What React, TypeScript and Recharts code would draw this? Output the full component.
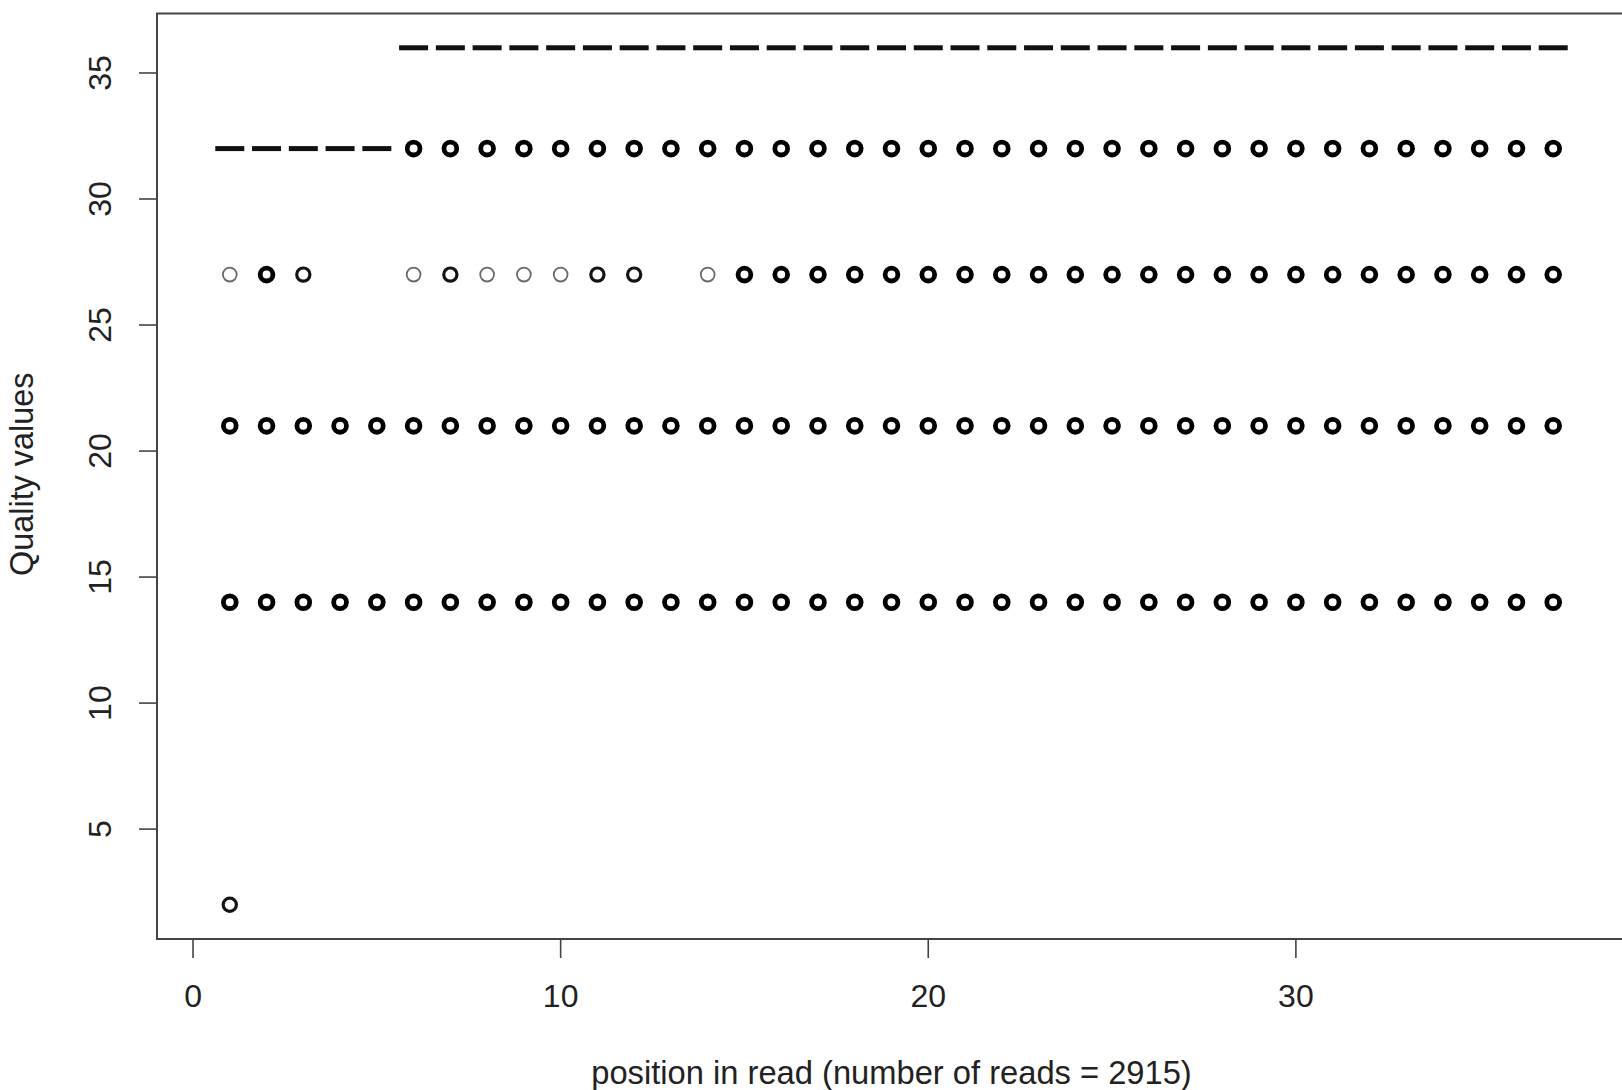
import React from 'react';
import { ScatterChart, Scatter, XAxis, YAxis, ReferenceArea, Label } from 'recharts';

// ---- data ----
const xTicks = [0, 10, 20, 30];
const yTicks = [5, 10, 15, 20, 25, 30, 35];

const allPositions = [1, 2, 3, 4, 5, 6, 7, 8, 9, 10, 11, 12, 13, 14, 15, 16, 17, 18, 19, 20, 21, 22, 23, 24, 25, 26, 27, 28, 29, 30, 31, 32, 33, 34, 35, 36, 37];
const laterPositions = [6, 7, 8, 9, 10, 11, 12, 13, 14, 15, 16, 17, 18, 19, 20, 21, 22, 23, 24, 25, 26, 27, 28, 29, 30, 31, 32, 33, 34, 35, 36, 37];
const earlyPositions = [1, 2, 3, 4, 5];

// quality 36: max marks ("-") at positions 6..37
const dash36Positions = laterPositions;
// quality 32: max marks ("-") at positions 1..5, circles at 6..37
const dash32Positions = earlyPositions;
const q32Positions = laterPositions;
// quality 27: circles of different density
const q27ThinPositions = [1, 6, 8, 9, 10, 14];
const q27MediumPositions = [3, 7, 11, 12];
const q27ThickPositions = [2, 15, 16, 17, 18, 19, 20, 21, 22, 23, 24, 25, 26, 27, 28, 29, 30, 31, 32, 33, 34, 35, 36, 37];
// quality 21 and 14: all positions
const q21Positions = allPositions;
const q14Positions = allPositions;
// quality 2: position 1 only
const q2Positions = [1];

const X_DOMAIN: [number, number] = [-0.98, 38.98];
const Y_DOMAIN: [number, number] = [0.64, 37.36];

const toPoints = (xs: number[], q: number) => xs.map((x) => ({ x, y: q }));

const FONT = '"Liberation Sans", Arial, Helvetica, sans-serif';
const TEXT = '#222';

const ring = (r: number, sw: number, color: string) => (props: any) => (
  <circle cx={props.cx} cy={props.cy} r={r} fill="none" stroke={color} strokeWidth={sw} />
);
const thickRing = ring(6.4, 4.8, '#000');
const mediumRing = ring(6.6, 3.2, '#141414');
const thinRing = ring(6.9, 1.8, '#6a6a6a');
const dash = (props: any) => (
  <rect x={props.cx - 14.5} y={props.cy - 2.5} width={29} height={5} fill="#111" />
);

const XTick = (props: any) => {
  const { x, y, payload } = props;
  return (
    <text x={x} y={y + 47} textAnchor="middle" fontSize={32} fontFamily={FONT} fill={TEXT}>
      {payload.value}
    </text>
  );
};

const YTick = (props: any) => {
  const { x, y, payload } = props;
  const bx = x - 25.5;
  return (
    <text
      x={bx}
      y={y}
      transform={`rotate(-90 ${bx} ${y})`}
      textAnchor="middle"
      fontSize={32}
      fontFamily={FONT}
      fill={TEXT}
    >
      {payload.value}
    </text>
  );
};

const XTitle = (props: any) => {
  const vb = props.viewBox || { x: 157, y: 939, width: 1469, height: 151 };
  return (
    <text
      x={vb.x + vb.width / 2}
      y={vb.y + 145}
      textAnchor="middle"
      fontSize={32.7}
      fontFamily={FONT}
      fill={TEXT}
    >
      position in read (number of reads = 2915)
    </text>
  );
};

const YTitle = (props: any) => {
  const vb = props.viewBox || { x: 0, y: 13.5, width: 157, height: 925.5 };
  const cx = 32.5;
  const cy = vb.y + vb.height / 2 - 2;
  return (
    <text
      x={cx}
      y={cy}
      transform={`rotate(-90 ${cx} ${cy})`}
      textAnchor="middle"
      fontSize={32.4}
      fontFamily={FONT}
      fill={TEXT}
    >
      Quality values
    </text>
  );
};

export default function App() {
  return (
    <div style={{ position: 'absolute', left: 0, top: 0, width: 1622, height: 1090, overflow: 'hidden', background: '#fff' }}>
      <ScatterChart width={1640} height={1090} margin={{ top: 13.5, right: 14, bottom: 0, left: 0 }}>
        <XAxis
          type="number"
          dataKey="x"
          domain={X_DOMAIN}
          allowDataOverflow
          ticks={xTicks}
          interval={0}
          height={151}
          axisLine={false}
          tickSize={19}
          tickLine={{ stroke: '#444', strokeWidth: 1.6 }}
          tick={<XTick />}
        >
          <Label content={<XTitle />} />
        </XAxis>
        <YAxis
          type="number"
          dataKey="y"
          domain={Y_DOMAIN}
          allowDataOverflow
          ticks={yTicks}
          interval={0}
          width={157}
          axisLine={false}
          tickSize={18}
          tickLine={{ stroke: '#444', strokeWidth: 1.6 }}
          tick={<YTick />}
        >
          <Label content={<YTitle />} />
        </YAxis>
        <ReferenceArea
          x1={X_DOMAIN[0]}
          x2={X_DOMAIN[1]}
          y1={Y_DOMAIN[0]}
          y2={Y_DOMAIN[1]}
          fill="none"
          stroke="#444"
          strokeWidth={2}
          ifOverflow="visible"
        />
        <Scatter data={toPoints(dash36Positions, 36)} shape={dash} isAnimationActive={false} />
        <Scatter data={toPoints(dash32Positions, 32)} shape={dash} isAnimationActive={false} />
        <Scatter data={toPoints(q32Positions, 32)} shape={thickRing} isAnimationActive={false} />
        <Scatter data={toPoints(q27ThinPositions, 27)} shape={thinRing} isAnimationActive={false} />
        <Scatter data={toPoints(q27MediumPositions, 27)} shape={mediumRing} isAnimationActive={false} />
        <Scatter data={toPoints(q27ThickPositions, 27)} shape={thickRing} isAnimationActive={false} />
        <Scatter data={toPoints(q21Positions, 21)} shape={thickRing} isAnimationActive={false} />
        <Scatter data={toPoints(q14Positions, 14)} shape={thickRing} isAnimationActive={false} />
        <Scatter data={toPoints(q2Positions, 2)} shape={mediumRing} isAnimationActive={false} />
      </ScatterChart>
    </div>
  );
}
